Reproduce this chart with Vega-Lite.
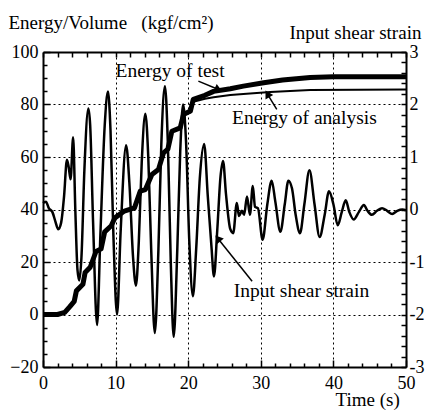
{
  "$schema": "https://vega.github.io/schema/vega-lite/v6.json",
  "width": 363,
  "height": 315,
  "autosize": {"type": "none"},
  "padding": {"left": 43, "top": 52, "right": 20, "bottom": 43},
  "background": "white",
  "config": {
    "view": {"stroke": null},
    "font": "Liberation Serif",
    "axis": {
      "domainColor": "black", "domainWidth": 2,
      "tickColor": "black", "tickWidth": 1.5,
      "labelColor": "black", "labelFont": "Liberation Serif", "labelFontSize": 18,
      "titleFont": "Liberation Serif", "titleFontSize": 19, "titleFontWeight": "normal", "titleColor": "black",
      "labelFlush": false, "labelOverlap": false
    }
  },
  "datasets": {
    "energy": [
      {"series": "test", "t": 0, "v": 0}, {"series": "test", "t": 2, "v": 0}, {"series": "test", "t": 3, "v": 0.8},
      {"series": "test", "t": 3.7, "v": 3}, {"series": "test", "t": 4.3, "v": 5}, {"series": "test", "t": 4.6, "v": 9},
      {"series": "test", "t": 5.5, "v": 11.5}, {"series": "test", "t": 5.8, "v": 16}, {"series": "test", "t": 6.5, "v": 18},
      {"series": "test", "t": 7.3, "v": 24}, {"series": "test", "t": 8.0, "v": 25}, {"series": "test", "t": 8.5, "v": 31.5},
      {"series": "test", "t": 9.4, "v": 33.8}, {"series": "test", "t": 9.9, "v": 36.8}, {"series": "test", "t": 11.2, "v": 39.4},
      {"series": "test", "t": 12.6, "v": 40.6}, {"series": "test", "t": 13.4, "v": 47}, {"series": "test", "t": 14.1, "v": 47.6},
      {"series": "test", "t": 15.0, "v": 53.3}, {"series": "test", "t": 15.9, "v": 55.2}, {"series": "test", "t": 16.6, "v": 61.6},
      {"series": "test", "t": 17.2, "v": 63}, {"series": "test", "t": 17.75, "v": 69.8}, {"series": "test", "t": 18.9, "v": 71.1},
      {"series": "test", "t": 19.35, "v": 76.2}, {"series": "test", "t": 20.3, "v": 77.5}, {"series": "test", "t": 20.7, "v": 82},
      {"series": "test", "t": 22.3, "v": 83.5}, {"series": "test", "t": 23.5, "v": 85}, {"series": "test", "t": 25.8, "v": 86},
      {"series": "test", "t": 27.6, "v": 87}, {"series": "test", "t": 30.4, "v": 88.3}, {"series": "test", "t": 33, "v": 89.3},
      {"series": "test", "t": 36.8, "v": 90.3}, {"series": "test", "t": 40, "v": 90.6}, {"series": "test", "t": 50, "v": 90.6},
      {"series": "analysis", "t": 0, "v": 0}, {"series": "analysis", "t": 2, "v": 0}, {"series": "analysis", "t": 3, "v": 0.8},
      {"series": "analysis", "t": 3.7, "v": 3}, {"series": "analysis", "t": 4.3, "v": 5}, {"series": "analysis", "t": 4.6, "v": 9},
      {"series": "analysis", "t": 5.5, "v": 11.5}, {"series": "analysis", "t": 5.8, "v": 16}, {"series": "analysis", "t": 6.5, "v": 18},
      {"series": "analysis", "t": 7.3, "v": 24}, {"series": "analysis", "t": 8.0, "v": 25}, {"series": "analysis", "t": 8.5, "v": 31.5},
      {"series": "analysis", "t": 9.4, "v": 33.8}, {"series": "analysis", "t": 9.9, "v": 36.8}, {"series": "analysis", "t": 11.2, "v": 39.4},
      {"series": "analysis", "t": 12.6, "v": 40.6}, {"series": "analysis", "t": 13.4, "v": 47}, {"series": "analysis", "t": 14.1, "v": 47.6},
      {"series": "analysis", "t": 15.0, "v": 53.3}, {"series": "analysis", "t": 15.9, "v": 55.2}, {"series": "analysis", "t": 16.6, "v": 61.6},
      {"series": "analysis", "t": 17.2, "v": 63}, {"series": "analysis", "t": 17.75, "v": 69.8}, {"series": "analysis", "t": 18.9, "v": 71.1},
      {"series": "analysis", "t": 19.35, "v": 76}, {"series": "analysis", "t": 20.3, "v": 77}, {"series": "analysis", "t": 20.7, "v": 81},
      {"series": "analysis", "t": 22.3, "v": 82.2}, {"series": "analysis", "t": 23.5, "v": 82.8}, {"series": "analysis", "t": 25.8, "v": 83.6},
      {"series": "analysis", "t": 27.6, "v": 84}, {"series": "analysis", "t": 31.3, "v": 84.8}, {"series": "analysis", "t": 36.8, "v": 85.5},
      {"series": "analysis", "t": 50, "v": 85.7}
    ],
    "strain": [
      {"t": 0.0, "s": 0.125}, {"t": 0.4, "s": 0.15}, {"t": 0.8, "s": 0.025}, {"t": 1.3, "s": -0.05}, {"t": 1.7, "s": -0.225},
      {"t": 2.1, "s": -0.375}, {"t": 2.5, "s": -0.25}, {"t": 2.9, "s": 0.25}, {"t": 3.3, "s": 0.95}, {"t": 3.55, "s": 0.8},
      {"t": 3.8, "s": 0.575}, {"t": 4.15, "s": 1.375}, {"t": 4.45, "s": 0}, {"t": 4.75, "s": -1.15}, {"t": 5.0, "s": -1.35},
      {"t": 5.3, "s": -0.9}, {"t": 5.7, "s": 0.75}, {"t": 6.25, "s": 1.925}, {"t": 6.5, "s": 1.6}, {"t": 6.9, "s": -0.25},
      {"t": 7.45, "s": -2.2}, {"t": 7.9, "s": -0.5}, {"t": 8.5, "s": 1.6}, {"t": 8.95, "s": 2.25}, {"t": 9.3, "s": 1.5},
      {"t": 9.7, "s": -0.5}, {"t": 10.2, "s": -2.0}, {"t": 10.7, "s": -0.4}, {"t": 11.45, "s": 1.225}, {"t": 11.9, "s": 0.5},
      {"t": 12.4, "s": -0.9}, {"t": 12.8, "s": -1.45}, {"t": 13.2, "s": -0.6}, {"t": 13.6, "s": 0.9}, {"t": 14.1, "s": 1.825},
      {"t": 14.5, "s": 1.0}, {"t": 14.9, "s": -0.75}, {"t": 15.4, "s": -2.35}, {"t": 15.9, "s": -0.75}, {"t": 16.3, "s": 1.25},
      {"t": 16.8, "s": 2.35}, {"t": 17.2, "s": 1.25}, {"t": 17.6, "s": -1.0}, {"t": 18.0, "s": -2.425}, {"t": 18.5, "s": -0.75},
      {"t": 18.9, "s": 1.1}, {"t": 19.3, "s": 2.0}, {"t": 19.7, "s": 1.3}, {"t": 20.15, "s": -0.6}, {"t": 20.65, "s": -1.65},
      {"t": 21.1, "s": -0.75}, {"t": 21.6, "s": 0.6}, {"t": 22.2, "s": 1.25}, {"t": 22.7, "s": 0.25}, {"t": 23.2, "s": -0.7},
      {"t": 23.55, "s": -1.275}, {"t": 24.0, "s": -0.4}, {"t": 24.45, "s": 0.625}, {"t": 24.8, "s": 0.925}, {"t": 25.2, "s": 0.3},
      {"t": 25.8, "s": -0.375}, {"t": 26.2, "s": -0.45}, {"t": 26.7, "s": 0.125}, {"t": 27.0, "s": -0.125}, {"t": 27.4, "s": -0.025},
      {"t": 27.7, "s": -0.1}, {"t": 28.1, "s": 0.25}, {"t": 28.5, "s": -0.1}, {"t": 28.9, "s": 0.45}, {"t": 29.2, "s": 0.05},
      {"t": 29.6, "s": 0.025}, {"t": 30.25, "s": -0.575}, {"t": 30.9, "s": 0.1}, {"t": 31.5, "s": 0.55}, {"t": 32.0, "s": 0.15},
      {"t": 32.7, "s": -0.425}, {"t": 33.3, "s": 0.1}, {"t": 33.8, "s": 0.55}, {"t": 34.3, "s": 0.4}, {"t": 34.8, "s": -0.1},
      {"t": 35.4, "s": -0.45}, {"t": 36.0, "s": 0.1}, {"t": 36.7, "s": 0.75}, {"t": 37.4, "s": 0.1}, {"t": 38.1, "s": -0.525},
      {"t": 38.8, "s": -0.1}, {"t": 39.4, "s": 0.35}, {"t": 40.0, "s": 0.1}, {"t": 40.6, "s": -0.3}, {"t": 41.15, "s": -0.05},
      {"t": 41.7, "s": 0.175}, {"t": 42.2, "s": -0.05}, {"t": 42.8, "s": -0.19}, {"t": 43.5, "s": -0.05}, {"t": 44.2, "s": 0.085},
      {"t": 44.7, "s": -0.025}, {"t": 45.3, "s": -0.1}, {"t": 46.0, "s": -0.025}, {"t": 46.7, "s": 0.025}, {"t": 47.4, "s": -0.025},
      {"t": 48.1, "s": -0.085}, {"t": 48.8, "s": -0.025}, {"t": 49.5, "s": 0.0}, {"t": 50.0, "s": -0.015}
    ],
    "labels": [
      {"label": "Energy of test", "t": 17.5, "v": 92.6},
      {"label": "Energy of analysis", "t": 36.0, "v": 74.7},
      {"label": "Input shear strain", "t": 35.6, "v": 9.1}
    ],
    "arrows": [
      {"id": "test", "t": 21.4, "v": 88.9, "t2": 24.0, "v2": 85.9},
      {"id": "analysis", "t": 32.2, "v": 78.1, "t2": 31.0, "v2": 83.6},
      {"id": "strain", "t": 28.8, "v": 12.7, "t2": 24.2, "v2": 28.6}
    ]
  },
  "layer": [
    {
      "layer": [
        {
          "data": {"name": "energy"},
          "transform": [{"filter": "datum.series === 'analysis'"}],
          "mark": {"type": "line", "color": "black", "strokeWidth": 2},
          "encoding": {
            "x": {
              "field": "t", "type": "quantitative",
              "scale": {"domain": [0, 50], "nice": false},
              "axis": {
                "orient": "bottom",
                "values": [0, 10, 20, 30, 40, 50],
                "labelOverlap": false, "labelBound": false, "labelFlush": false,
                "tickSize": -7, "labelPadding": 14,
                "grid": true, "gridColor": "black", "gridDash": [2, 3], "gridWidth": 1,
                "gridOpacity": {"condition": {"test": "datum.value > 0 && datum.value < 50", "value": 1}, "value": 0},
                "title": "Time (s)", "titleX": 292, "titleY": 38, "titleAlign": "left", "titleBaseline": "alphabetic", "titleAnchor": "start"
              }
            },
            "y": {
              "field": "v", "type": "quantitative",
              "scale": {"domain": [-20, 100], "nice": false},
              "axis": {
                "orient": "left",
                "values": [-20, 0, 20, 40, 60, 80, 100],
                "labelOverlap": false, "labelBound": false, "labelFlush": false,
                "tickSize": -7, "labelPadding": 12,
                "grid": true, "gridColor": "black", "gridDash": [2, 3], "gridWidth": 1,
                "gridOpacity": {"condition": {"test": "datum.value > -20 && datum.value < 100", "value": 1}, "value": 0},
                "title": "Energy/Volume\u2002 (kgf/cm²)", "titleAngle": 0, "titleX": -35, "titleY": -24,
                "titleAlign": "left", "titleBaseline": "alphabetic", "titleAnchor": "start"
              }
            }
          }
        },
        {
          "data": {"name": "energy"},
          "transform": [{"filter": "datum.series === 'test'"}],
          "mark": {"type": "line", "color": "black", "strokeWidth": 5, "strokeJoin": "round"},
          "encoding": {
            "x": {"field": "t", "type": "quantitative"},
            "y": {"field": "v", "type": "quantitative"}
          }
        },
        {
          "data": {"name": "arrows"},
          "mark": {"type": "rule", "color": "black", "strokeWidth": 1.5},
          "encoding": {
            "x": {"field": "t", "type": "quantitative"},
            "y": {"field": "v", "type": "quantitative"},
            "x2": {"field": "t2"},
            "y2": {"field": "v2"}
          }
        },
        {
          "data": {"name": "arrows"},
          "transform": [{"filter": "datum.id === 'test'"}],
          "mark": {"type": "point", "shape": "triangle", "filled": true, "color": "black", "opacity": 1, "size": 80, "angle": 114},
          "encoding": {
            "x": {"field": "t2", "type": "quantitative"},
            "y": {"field": "v2", "type": "quantitative"}
          }
        },
        {
          "data": {"name": "arrows"},
          "transform": [{"filter": "datum.id === 'analysis'"}],
          "mark": {"type": "point", "shape": "triangle", "filled": true, "color": "black", "opacity": 1, "size": 80, "angle": 330},
          "encoding": {
            "x": {"field": "t2", "type": "quantitative"},
            "y": {"field": "v2", "type": "quantitative"}
          }
        },
        {
          "data": {"name": "arrows"},
          "transform": [{"filter": "datum.id === 'strain'"}],
          "mark": {"type": "point", "shape": "triangle", "filled": true, "color": "black", "opacity": 1, "size": 80, "angle": 321},
          "encoding": {
            "x": {"field": "t2", "type": "quantitative"},
            "y": {"field": "v2", "type": "quantitative"}
          }
        },
        {
          "data": {"name": "labels"},
          "mark": {"type": "text", "font": "Liberation Serif", "fontSize": 19.5, "color": "black", "align": "center", "baseline": "middle"},
          "encoding": {
            "x": {"field": "t", "type": "quantitative"},
            "y": {"field": "v", "type": "quantitative"},
            "text": {"field": "label"}
          }
        }
      ]
    },
    {
      "data": {"name": "strain"},
      "mark": {"type": "line", "color": "black", "strokeWidth": 2.5, "interpolate": "monotone"},
      "encoding": {
        "x": {
          "field": "t", "type": "quantitative",
          "scale": {"domain": [0, 50], "nice": false},
          "axis": {
            "orient": "top",
            "values": [0, 2, 4, 6, 8, 10, 12, 14, 16, 18, 20, 22, 24, 26, 28, 30, 32, 34, 36, 38, 40, 42, 44, 46, 48, 50],
            "labels": false, "tickSize": -5, "grid": false, "title": null
          }
        },
        "y": {
          "field": "s", "type": "quantitative",
          "scale": {"domain": [-3, 3], "nice": false},
          "axis": {
            "orient": "right",
            "values": [-3, -2.8, -2.6, -2.4, -2.2, -2, -1.8, -1.6, -1.4, -1.2, -1, -0.8, -0.6, -0.4, -0.2, 0, 0.2, 0.4, 0.6, 0.8, 1, 1.2, 1.4, 1.6, 1.8, 2, 2.2, 2.4, 2.6, 2.8, 3],
            "labelExpr": "abs(datum.value - round(datum.value)) < 0.001 ? '' + round(datum.value) : ''",
            "labelOverlap": false, "labelBound": false, "labelFlush": false,
            "tickSize": -5, "labelPadding": 8, "grid": false,
            "title": "Input shear strain", "titleFontSize": 19, "titleAngle": 0, "titleX": -117, "titleY": -14,
            "titleAlign": "left", "titleBaseline": "alphabetic", "titleAnchor": "start"
          }
        }
      }
    },
    {
      "data": {"name": "energy"},
      "mark": {"type": "line", "opacity": 0},
      "encoding": {
        "x": {
          "field": "t", "type": "quantitative",
          "scale": {"domain": [0, 50], "nice": false},
          "axis": {
            "orient": "bottom",
            "values": [2, 4, 6, 8, 12, 14, 16, 18, 22, 24, 26, 28, 32, 34, 36, 38, 42, 44, 46, 48],
            "labels": false, "tickSize": -4, "grid": false, "domain": false, "title": null
          }
        },
        "y": {
          "field": "v", "type": "quantitative",
          "scale": {"domain": [-20, 100], "nice": false},
          "axis": {
            "orient": "left",
            "values": [-15, -10, -5, 5, 10, 15, 25, 30, 35, 45, 50, 55, 65, 70, 75, 85, 90, 95],
            "labels": false, "tickSize": -4, "grid": false, "domain": false, "title": null
          }
        }
      }
    }
  ],
  "resolve": {"scale": {"y": "independent"}, "axis": {"x": "independent", "y": "independent"}}
}
